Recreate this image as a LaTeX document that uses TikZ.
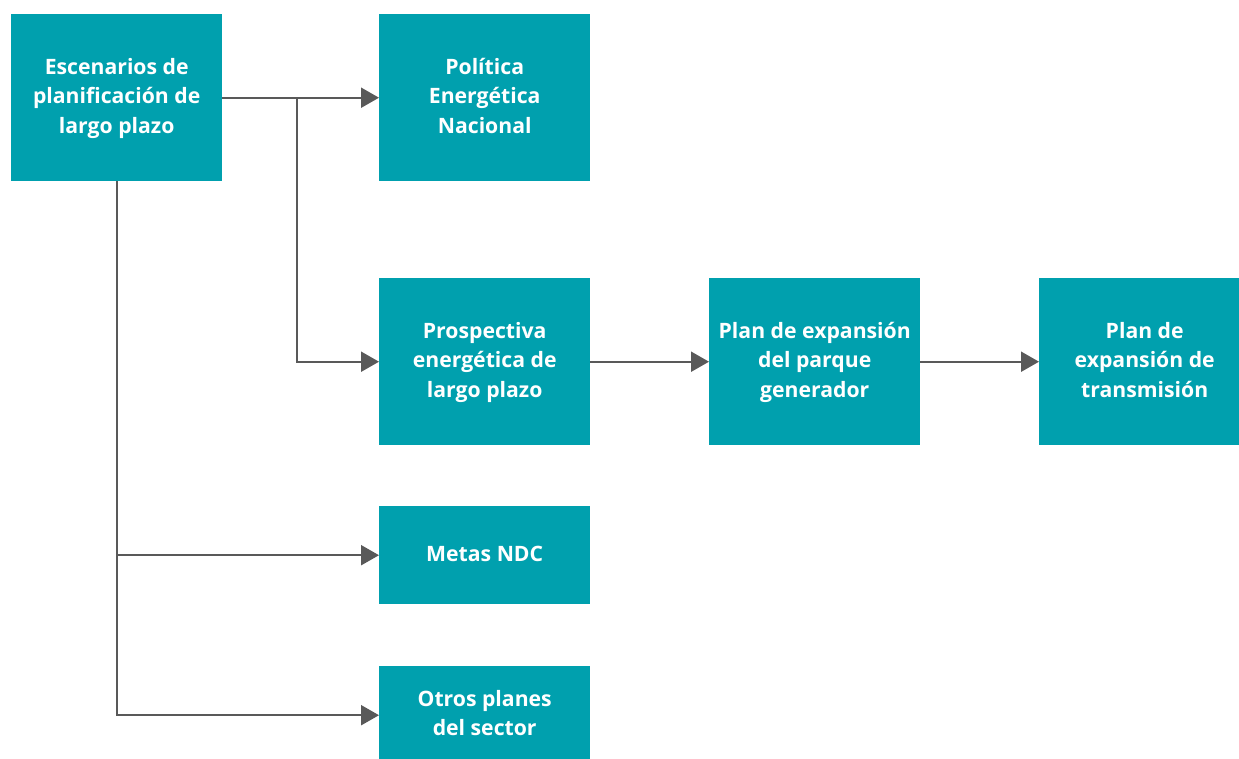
\documentclass[tikz,border=0pt]{standalone}
\usepackage{fontspec}
\setmainfont{Open Sans}[UprightFont=* Bold]
\usetikzlibrary{arrows.meta}
\definecolor{boxteal}{HTML}{00A0AE}
\definecolor{linegray}{HTML}{595959}
\begin{document}
\begin{tikzpicture}[x=1pt,y=-1pt,
  stepbox/.style={rectangle, fill=boxteal, draw=none, inner sep=0pt,
    minimum width=211pt, minimum height=#1, anchor=north west,
    align=center, text=white, font=\fontsize{21.2}{29.5}\selectfont},
  stepbox/.default=167pt,
  link/.style={draw=linegray, line width=2pt},
  arrowlink/.style={link, -{Triangle[length=18pt,width=20pt]}}]
\useasboundingbox (0,0) rectangle (1239,758);
\clip (0,0) rectangle (1239,758);

% boxes (each text line set on a strut so the baselines agree)
\node[stepbox] (esc) at (11,14) {\strut Escenarios de\\planificación de\\largo plazo\strut};
\node[stepbox] (pol) at (379,14) {\strut Política\\Energética\\Nacional\strut};
\node[stepbox] (pros) at (379,278) {\strut Prospectiva\\energética de\\largo plazo\strut};
\node[stepbox] (gen) at (709,278) {\strut Plan de expansión\\del parque\\generador\strut};
\node[stepbox] (trans) at (1039,278) {\strut Plan de\\expansión de\\transmisión\strut};
\node[stepbox=98pt] (ndc) at (379,506) {\strut Metas NDC};
\node[stepbox=98pt] (otros) at (379,666) {\strut Otros planes\\del sector\strut};

% connectors
\coordinate (split) at (297,0 |- esc.east);
\draw[arrowlink] (esc.east) -- (pol.west);
\draw[arrowlink] (split) |- (pros.west);
\draw[arrowlink] (pros.east) -- (gen.west);
\draw[arrowlink] (gen.east) -- (trans.west);
\draw[arrowlink] (esc.south) |- (otros.west);
\draw[arrowlink] (esc.south |- ndc.west) -- (ndc.west);
\end{tikzpicture}
\end{document}
